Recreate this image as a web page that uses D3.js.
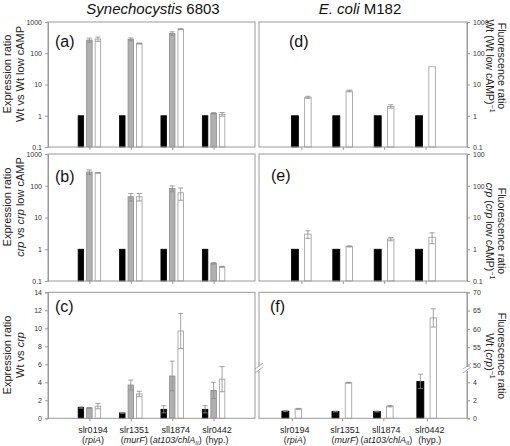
<!DOCTYPE html>
<html><head><meta charset="utf-8">
<script src="https://cdn.jsdelivr.net/npm/d3@7"></script>
<style>body{margin:0;background:#fff}svg{display:block;font-family:"Liberation Sans",Arial,sans-serif}</style>
</head><body>
<svg id="c" width="510" height="446"></svg>
<script>
// ---- data ----
const categories = ["slr0194","slr1351","sll1874","slr0442"];
const genes = ["rpiA","murF","at103/chlA","hyp."];
const logTicks = [0.1,1,10,100,1000];
const logTickLabels = ["0.1","1","10","100","1000"];
const eTickLabels = ["0.1","1","10","100","100"];
const cTicks = [0,2,4,6,8,10,12,14];
const fTicks = [0,2,4,50,55,60,65,70];

const aBlack = [1,1,1,1];
const aGray = [265,280,430,1.2];
const aGrayErr = [40,30,55,0.06];
const aWhite = [285,205,590,1.12];
const aWhiteErr = [45,8,20,0.15];

const bBlack = [1,1,1,1];
const bGray = [270,45,82,0.36];
const bGrayErr = [45,12,17,0.02];
const bWhite = [255,45,60,0.28];
const bWhiteErr = [4,12,25,0.01];

const cBlack = [1.2,0.6,1.0,1.0];
const cBlackErr = [0.08,0.05,0.4,0.4];
const cGray = [1.15,3.7,4.7,3.1];
const cGrayErr = [0.05,0.55,1.65,0.9];
const cWhite = [1.35,2.7,9.7,4.35];
const cWhiteErr = [0.3,0.3,1.95,1.4];

const dBlack = [1,1,1,1];
const dWhite = [3.9,6.2,2.0,37];
const dWhiteErr = [0.3,0.4,0.25,0];

const eBlack = [1,1,1,1];
const eWhite = [3.0,1.23,2.1,2.4];
const eWhiteErr = [0.8,0.05,0.25,0.9];

const fBlack = [0.8,0.75,0.75,4.1];
const fBlackErr = [0.05,0.05,0.05,0.8];
const fWhite = [1.05,3.95,1.35,63];
const fWhiteErr = [0.05,0.05,0.08,2.5];

// ---- layout ----
const svg = d3.select("#c");
const AX = "#9a9a9a", TXT = "#333", ERR = "#8a8a8a";
const stdSlots = [1,2,3,4];
const fSlots = [0.77,1.98,2.98,4.03];   // panel (f) groups are placed slightly unevenly in the original

const xL = d3.scaleLinear().domain([0,5]).range([48,255]);
const xR = d3.scaleLinear().domain([0,5]).range([260,467]);
const rows = {a:[147,22], b:[281,154], c:[418.3,292.3]};

function frame(x0,x1,y0,y1){
  svg.append("rect").attr("x",x0).attr("y",y1).attr("width",x1-x0).attr("height",y0-y1)
    .attr("fill","none").attr("stroke",AX).attr("stroke-width",1);
}

function panel(o){
  const x = o.x, y = o.y, slots = o.slots || stdSlots;
  const g = svg.append("g");
  frame(o.fx0, o.fx1, y.range()[0], y.range()[y.range().length-1]);
  const axis = (o.side==="left"?d3.axisLeft(y):d3.axisRight(y))
    .tickValues(o.ticks).tickFormat((d,i)=>o.tickLabels[i]).tickSize(3).tickPadding(3);
  const ag = g.append("g").attr("transform",`translate(${o.side==="left"?o.fx0:o.fx1},0)`).call(axis);
  ag.select(".domain").attr("stroke",AX);
  ag.selectAll(".tick line").attr("stroke",AX);
  ag.selectAll(".tick text").attr("fill",TXT).style("font-size","7px").style("font-family","Liberation Sans, Arial, sans-serif");
  const xa = d3.axisBottom(x).tickValues(slots).tickFormat("").tickSize(3);
  const xg = g.append("g").attr("transform",`translate(0,${y.range()[0]})`).call(xa);
  xg.select(".domain").remove();
  xg.selectAll(".tick line").attr("stroke",AX);
  const base = o.base;
  o.series.forEach(s=>{
    g.selectAll(null).data(s.v).enter().append("rect")
      .attr("x",(d,i)=>x(slots[i])+s.off-s.w/2)
      .attr("y",d=>y(d))
      .attr("width",s.w)
      .attr("height",d=>y(base)-y(d))
      .attr("fill",s.fill).attr("stroke",s.stroke).attr("stroke-width",0.8);
    if(s.e){
      s.v.forEach((d,i)=>{
        const e=s.e[i]; if(!e) return;
        const cx=x(slots[i])+s.off;
        const y1=y(d+e), y2=y(Math.max(d-e, o.log?0.1001:0));
        g.append("line").attr("x1",cx).attr("x2",cx).attr("y1",y1).attr("y2",y2).attr("stroke",ERR).attr("stroke-width",0.8);
        [y1,y2].forEach(yy=>g.append("line").attr("x1",cx-2.5).attr("x2",cx+2.5).attr("y1",yy).attr("y2",yy).attr("stroke",ERR).attr("stroke-width",0.8));
      });
    }
  });
  svg.append("text").attr("x",o.lx).attr("y",o.ly).text(o.letter).style("font-size","16px").attr("fill","#111");
}

const W = 5.5;
function leftSeries(bk,gr,gre,wh,whe,bke){
  return [
    {v:bk,e:bke,off:-8.5,w:W,fill:"#000",stroke:"#000"},
    {v:gr,e:gre,off:0,w:W,fill:"#b0b0b0",stroke:"#8a8a8a"},
    {v:wh,e:whe,off:8.5,w:W,fill:"#fff",stroke:"#9a9a9a"}
  ];
}
function rightSeries(bk,bke,wh,whe){
  return [
    {v:bk,e:bke,off:-6.5,w:7,fill:"#000",stroke:"#000"},
    {v:wh,e:whe,off:6.5,w:6.5,fill:"#fff",stroke:"#9a9a9a"}
  ];
}

const yA = d3.scaleLog().domain([0.1,1000]).range(rows.a);
const yB = d3.scaleLog().domain([0.1,1000]).range(rows.b);
const yC = d3.scaleLinear().domain([0,14]).range(rows.c);
const yF = d3.scaleLinear().domain([0,5,50,70]).range([418.3,373.3,365.5,292.3]);

panel({x:xL,y:yA,fx0:48,fx1:255,side:"left",ticks:logTicks,tickLabels:logTickLabels,base:0.1,log:true,
  series:leftSeries(aBlack,aGray,aGrayErr,aWhite,aWhiteErr,null),letter:"(a)",lx:55,ly:47});
panel({x:xL,y:yB,fx0:48,fx1:255,side:"left",ticks:logTicks,tickLabels:logTickLabels,base:0.1,log:true,
  series:leftSeries(bBlack,bGray,bGrayErr,bWhite,bWhiteErr,null),letter:"(b)",lx:55,ly:182});
panel({x:xL,y:yC,fx0:48,fx1:255,side:"left",ticks:cTicks,tickLabels:cTicks.map(String),base:0,log:false,
  series:leftSeries(cBlack,cGray,cGrayErr,cWhite,cWhiteErr,cBlackErr),letter:"(c)",lx:55,ly:312});
panel({x:xR,y:yA,fx0:259,fx1:467,side:"right",ticks:logTicks,tickLabels:logTickLabels,base:0.1,log:true,
  series:rightSeries(dBlack,null,dWhite,dWhiteErr),letter:"(d)",lx:289,ly:47});
panel({x:xR,y:yB,fx0:259,fx1:467,side:"right",ticks:logTicks,tickLabels:eTickLabels,base:0.1,log:true,
  series:rightSeries(eBlack,null,eWhite,eWhiteErr),letter:"(e)",lx:271,ly:181});
panel({x:xR,y:yF,fx0:259,fx1:467,side:"right",ticks:fTicks,tickLabels:fTicks.map(String),base:0,log:false,slots:fSlots,
  series:rightSeries(fBlack,fBlackErr,fWhite,fWhiteErr),letter:"(f)",lx:270,ly:312});

// axis break marks in (f)
[259,467].forEach(bx=>{
  svg.append("rect").attr("x",bx-3).attr("y",367).attr("width",6).attr("height",4).attr("fill","#fff");
  [-2,2].forEach(dy=>svg.append("line").attr("x1",bx-4).attr("x2",bx+4).attr("y1",371+dy).attr("y2",365+dy)
    .attr("stroke",AX).attr("stroke-width",0.8));
});

// titles
const t1 = svg.append("text").attr("x",153).attr("y",14).attr("text-anchor","middle").style("font-size","15px").attr("fill","#111");
t1.append("tspan").style("font-style","italic").text("Synechocystis");
t1.append("tspan").text(" 6803");
const t2 = svg.append("text").attr("x",360).attr("y",14).attr("text-anchor","middle").style("font-size","15px").attr("fill","#111");
t2.append("tspan").style("font-style","italic").text("E. coli");
t2.append("tspan").text(" M182");

// left y labels
function leftLabel(cy, parts){
  const g = svg.append("g").attr("transform",`translate(11,${cy}) rotate(-90)`);
  g.append("text").attr("text-anchor","middle").style("font-size","11px").attr("fill","#222").text("Expression ratio");
  const t = g.append("text").attr("y",13).attr("text-anchor","middle").style("font-size","11px").attr("fill","#222");
  parts.forEach(p=>t.append("tspan").style("font-style",p[1]?"italic":"normal").text(p[0]));
}
leftLabel(74,[["Wt vs Wt low cAMP",false]]);
leftLabel(207,[["crp",true],[" vs ",false],["crp",true],[" low cAMP",false]]);
leftLabel(355,[["Wt vs ",false],["crp",true]]);

function rightLabel(cy, parts){
  const g = svg.append("g").attr("transform",`translate(498,${cy}) rotate(90)`);
  g.append("text").attr("text-anchor","middle").style("font-size","10.5px").attr("fill","#222").text("Fluorescence ratio");
  const t = g.append("text").attr("y",12).attr("text-anchor","middle").style("font-size","10.5px").attr("fill","#222");
  parts.forEach(p=>{
    if(p[2]) t.append("tspan").attr("dy",-4).style("font-size","7px").text(p[0]);
    else t.append("tspan").style("font-style",p[1]?"italic":"normal").text(p[0]);
  });
}
rightLabel(66,[["Wt (Wt low cAMP)",false],["\u22121",false,true]]);
rightLabel(231,[["crp",true],[" (",false],["crp",true],[" low cAMP)",false],["\u22121",false,true]]);
rightLabel(356,[["Wt (",false],["crp",true],[")",false],["\u22121",false,true]]);

// category labels
function catLabels(x, slots, dx){
  categories.forEach((c,i)=>{
    const cx = x(slots[i])+dx;
    svg.append("text").attr("x",cx).attr("y",433).attr("text-anchor","middle").style("font-size","9px").attr("fill","#222").text(c);
    const t = svg.append("text").attr("x",cx).attr("y",443).attr("text-anchor","middle").style("font-size","9px").attr("fill","#222");
    if(i===3){ t.text("("+genes[i]+")"); }
    else if(i===2){
      t.append("tspan").text("(");
      t.append("tspan").style("font-style","italic").text(genes[i]);
      t.append("tspan").style("font-style","italic").attr("dy",2).style("font-size","6px").text("II");
      t.append("tspan").attr("dy",-2).text(")");
    } else {
      t.append("tspan").text("(");
      t.append("tspan").style("font-style","italic").text(genes[i]);
      t.append("tspan").text(")");
    }
  });
}
catLabels(xL,stdSlots,3.5);
catLabels(xR,fSlots,3);
</script>
</body></html>
